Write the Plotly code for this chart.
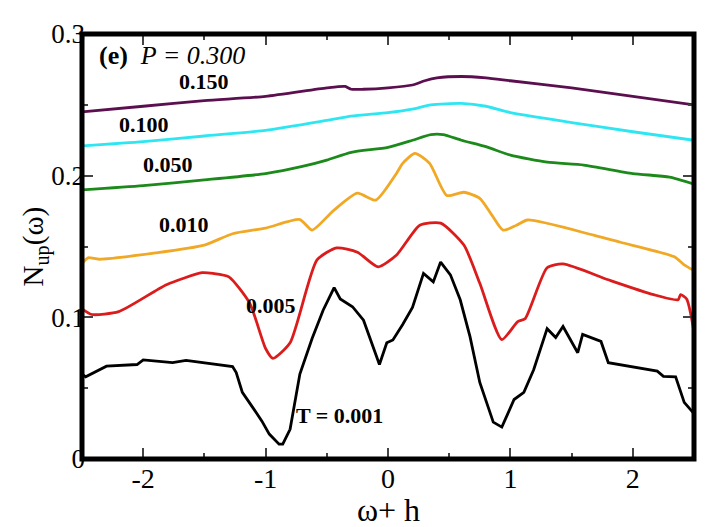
import plotly.graph_objects as go

# curve values (omega + h, N_up)
black_x = [-2.5, -2.47, -2.3, -2.05, -2.0, -1.76, -1.65, -1.27, -1.24, -1.19, -1.11, -1.03, -0.97,
           -0.89, -0.86, -0.8, -0.72, -0.62, -0.53, -0.44, -0.39, -0.29, -0.2, -0.15, -0.07, -0.01,
           0.04, 0.12, 0.2, 0.29, 0.37, 0.43, 0.51, 0.59, 0.67, 0.75, 0.86, 0.93, 1.03, 1.11, 1.19,
           1.3, 1.37, 1.43, 1.55, 1.59, 1.74, 1.8, 2.2, 2.25, 2.35, 2.42, 2.5]
black_y = [0.06, 0.058, 0.0655, 0.0667, 0.07, 0.068, 0.0696, 0.0653, 0.061, 0.047, 0.037, 0.0267, 0.0176,
           0.0105, 0.0105, 0.021, 0.06, 0.085, 0.105, 0.121, 0.113, 0.1075, 0.098, 0.0864, 0.0667, 0.082,
           0.084, 0.095, 0.107, 0.131, 0.125, 0.139, 0.13, 0.1124, 0.0864, 0.054, 0.026, 0.0225, 0.042, 0.047, 0.063,
           0.092, 0.0857, 0.0935, 0.075, 0.088, 0.083, 0.068, 0.062, 0.0583, 0.058, 0.04, 0.032]

red_x = [-2.5, -2.42, -2.2, -1.81, -1.52, -1.43, -1.3, -1.13, -1.0, -0.94, -0.8, -0.58, -0.42, -0.25,
         -0.08, 0.07, 0.26, 0.43, 0.62, 0.75, 0.93, 1.06, 1.12, 1.3, 1.43, 1.8, 2.17, 2.37, 2.39, 2.44, 2.5]
red_y = [0.106, 0.102, 0.104, 0.123, 0.1315, 0.131, 0.1286, 0.11, 0.078, 0.071, 0.082, 0.1405, 0.149, 0.146,
         0.1356, 0.144, 0.165, 0.1665, 0.151, 0.124, 0.0843, 0.097, 0.099, 0.135, 0.1377, 0.1265, 0.116, 0.1124,
         0.116, 0.113, 0.09]

orange_x = [-2.5, -2.45, -2.36, -1.9, -1.5, -1.27, -1.0, -0.72, -0.62, -0.45, -0.25, -0.1, 0.07, 0.12,
            0.22, 0.34, 0.48, 0.62, 0.75, 0.85, 0.94, 1.05, 1.14, 1.68, 1.9, 2.34, 2.42, 2.5]
orange_y = [0.138, 0.142, 0.141, 0.1455, 0.151, 0.159, 0.163, 0.169, 0.1616, 0.175, 0.1876, 0.1827, 0.2017, 0.2087,
            0.2157, 0.2087, 0.186, 0.1883, 0.184, 0.172, 0.1616, 0.165, 0.1687, 0.158, 0.153, 0.1427, 0.137, 0.133]

green_x = [-2.5, -2.0, -1.5, -1.0, -0.7, -0.5, -0.3, 0.0, 0.2, 0.35, 0.45, 0.6, 0.8, 1.0, 1.3, 1.6, 2.0, 2.3, 2.5]
green_y = [0.19, 0.193, 0.197, 0.2015, 0.2065, 0.211, 0.2165, 0.22, 0.225, 0.229, 0.229, 0.225, 0.2205,
           0.2145, 0.2095, 0.2075, 0.2015, 0.199, 0.194]

cyan_x = [-2.5, -2.0, -1.5, -1.0, -0.5, -0.3, 0.0, 0.2, 0.35, 0.6, 0.8, 1.0, 1.5, 2.0, 2.5]
cyan_y = [0.221, 0.224, 0.228, 0.232, 0.239, 0.242, 0.2445, 0.247, 0.25, 0.251, 0.249, 0.2445, 0.2375, 0.231, 0.225]

purple_x = [-2.5, -2.0, -1.5, -1.0, -0.5, -0.35, -0.3, -0.2, 0.0, 0.2, 0.3, 0.4, 0.6, 0.8, 1.0, 1.5, 2.0, 2.5]
purple_y = [0.245, 0.249, 0.253, 0.256, 0.262, 0.263, 0.261, 0.261, 0.262, 0.264, 0.267, 0.269, 0.27,
            0.269, 0.267, 0.262, 0.256, 0.25]

temperatures = ["T = 0.001", "0.005", "0.010", "0.050", "0.100", "0.150"]
x_ticks = [-2, -1, 0, 1, 2]
x_tick_text = ["-2", "-1", "0", "1", "2"]
y_ticks = [0, 0.1, 0.2, 0.3]
y_tick_text = ["0", "0.1", "0.2", "0.3"]

FONT = "Liberation Serif"

# (x, y, colour, smooth?)
curves = [
    (black_x, black_y, "black", False),
    (red_x, red_y, "#dc1c1c", True),
    (orange_x, orange_y, "#f0a825", True),
    (green_x, green_y, "#1b8a1b", True),
    (cyan_x, cyan_y, "#2ee6f2", True),
    (purple_x, purple_y, "#5c0f4f", True),
]

fig = go.Figure()
for (xs, ys, col, smooth), name in zip(curves, temperatures):
    line = dict(color=col, width=2.8)
    if smooth:
        line.update(shape="spline", smoothing=0.6)
    fig.add_trace(go.Scatter(x=xs, y=ys, mode="lines", name=name, line=line, hoverinfo="x+y"))

# curve labels, placed next to each curve as in the reference
label_pos = [(-0.40, 0.031), (-0.955, 0.1086), (-1.67, 0.1657), (-1.797, 0.208), (-1.993, 0.2362), (-1.503, 0.2662)]
for (lx, ly), txt in zip(label_pos, temperatures):
    fig.add_annotation(x=lx, y=ly, text=f"<b>{txt}</b>", showarrow=False,
                       font=dict(family=FONT, size=22, color="black"))

fig.add_annotation(x=-2.377, y=0.2845, xanchor="left", showarrow=False,
                   text="<b>(e)</b>  <i>P = 0.300</i>",
                   font=dict(family=FONT, size=26, color="black"))

# axis titles
fig.add_annotation(xref="paper", x=0, xshift=-47, xanchor="center", y=0.150, yanchor="middle",
                   textangle=-90, showarrow=False,
                   text="N<sub>up</sub>(ω)", font=dict(family=FONT, size=29, color="black"))
fig.add_annotation(x=0, yref="paper", y=0, yshift=-51, yanchor="middle", showarrow=False,
                   text="ω+ h", font=dict(family=FONT, size=32, color="black"))

# thick frame
fig.add_shape(type="rect", xref="paper", yref="paper", x0=0, x1=1, y0=0, y1=1,
              line=dict(color="black", width=5), layer="above")

fig.update_xaxes(range=[-2.5, 2.5], tickvals=x_ticks, ticktext=x_tick_text, ticks="inside", ticklen=11,
                 tickwidth=1.5, tickcolor="#444", mirror="ticks", showline=False, showgrid=False,
                 zeroline=False, ticklabelstandoff=0,
                 tickfont=dict(family=FONT, size=28, color="black"),
                 minor=dict(dtick=0.5, tick0=-2.5, ticks="inside", ticklen=6, tickwidth=1.5, tickcolor="#444"))
fig.update_yaxes(range=[0, 0.3], tickvals=y_ticks, ticktext=y_tick_text, ticks="inside", ticklen=11,
                 tickwidth=1.5, tickcolor="#444", mirror="ticks", showline=False, showgrid=False,
                 zeroline=False, ticklabelstandoff=-4,
                 tickfont=dict(family=FONT, size=27, color="black"),
                 minor=dict(dtick=0.05, tick0=0, ticks="inside", ticklen=6, tickwidth=1.5, tickcolor="#444"))

# page body adds 8px, so the figure is 8px smaller than the window
fig.update_layout(width=711, height=519, showlegend=False,
                  margin=dict(l=74, r=25, t=26, b=68),
                  plot_bgcolor="white", paper_bgcolor="white",
                  font=dict(family=FONT, color="black"))

fig.write_html("out.html")
